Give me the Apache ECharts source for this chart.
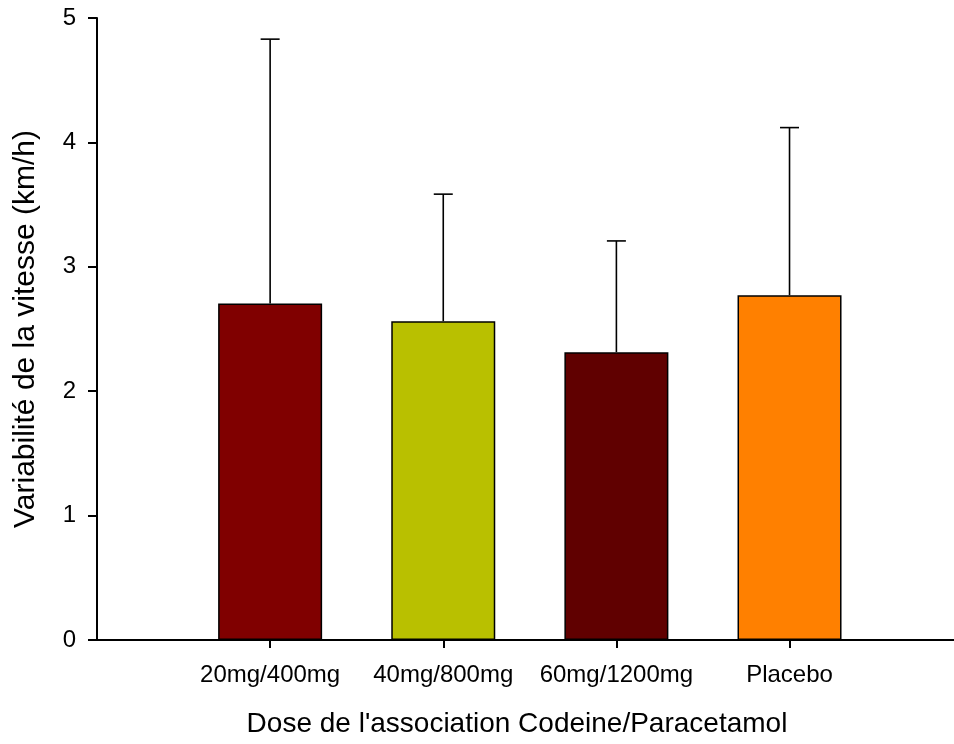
<!DOCTYPE html>
<html>
<head>
<meta charset="utf-8">
<script src="https://cdn.jsdelivr.net/npm/echarts@6/dist/echarts.min.js"></script>
<style>
html,body{margin:0;padding:0;background:#fff;overflow:hidden;}
#c{width:954px;height:744px;}
</style>
</head>
<body>
<div id="c"></div>
<script>
const categories = ['20mg/400mg', '40mg/800mg', '60mg/1200mg', 'Placebo'];
const means = [2.705, 2.563, 2.314, 2.772];
const errorTops = [4.83, 3.584, 3.208, 4.119];
const barColors = ['#800000', '#B9C000', '#600000', '#FF8000'];
const yTicks = [0, 1, 2, 3, 4, 5];
const xTitle = "Dose de l'association Codeine/Paracetamol";
const yTitle = 'Variabilité de la vitesse (km/h)';

const FONT = "'Liberation Sans', Arial, Helvetica, sans-serif";
const positions = categories.map((c, i) => i + 1);
const barData = means.map((v, i) => ({
  value: [positions[i], v],
  itemStyle: { color: barColors[i] }
}));
const errData = means.map((m, i) => [positions[i], m, errorTops[i]]);

const chart = echarts.init(document.getElementById('c'));
chart.setOption({
  animation: false,
  backgroundColor: '#fff',
  grid: { left: 97, top: 18, right: 0, bottom: 104, containLabel: false },
  xAxis: {
    type: 'value',
    min: 0,
    max: 4.95,
    name: xTitle,
    nameLocation: 'middle',
    nameGap: 70,
    nameTextStyle: { fontFamily: FONT, fontSize: 28, color: '#000', padding: [0, 17, 0, 0] },
    axisLine: { show: true, lineStyle: { color: '#000', width: 2 } },
    axisTick: {
      show: true, length: 8, lineStyle: { color: '#000', width: 2 },
      customValues: positions
    },
    axisLabel: {
      fontFamily: FONT, fontSize: 24, color: '#000', margin: 23,
      customValues: positions,
      formatter: (v) => categories[Math.round(v) - 1] || ''
    },
    splitLine: { show: false }
  },
  yAxis: {
    type: 'value',
    min: yTicks[0],
    max: yTicks[yTicks.length - 1],
    interval: 1,
    name: yTitle,
    nameLocation: 'middle',
    nameGap: 56,
    nameTextStyle: { fontFamily: FONT, fontSize: 30, color: '#000' },
    axisLine: { show: true, lineStyle: { color: '#000', width: 2 } },
    axisTick: { show: true, length: 9, lineStyle: { color: '#000', width: 2 } },
    axisLabel: { fontFamily: FONT, fontSize: 24, color: '#000', margin: 21 },
    splitLine: { show: false }
  },
  series: [
    {
      type: 'bar',
      data: barData,
      barWidth: 104,
      itemStyle: { borderColor: '#000', borderWidth: 1.5 },
      z: 2
    },
    {
      type: 'custom',
      data: errData,
      z: 3,
      renderItem: function (params, api) {
        const x = api.value(0);
        const p0 = api.coord([x, api.value(1)]);
        const p1 = api.coord([x, api.value(2)]);
        const half = 9.5;
        const style = { stroke: '#000', lineWidth: 1.6 };
        return {
          type: 'group',
          children: [
            { type: 'line', shape: { x1: p0[0], y1: p0[1], x2: p1[0], y2: p1[1] }, style: style },
            { type: 'line', shape: { x1: p1[0] - half, y1: p1[1], x2: p1[0] + half, y2: p1[1] }, style: style }
          ]
        };
      }
    }
  ]
});
</script>
</body>
</html>
